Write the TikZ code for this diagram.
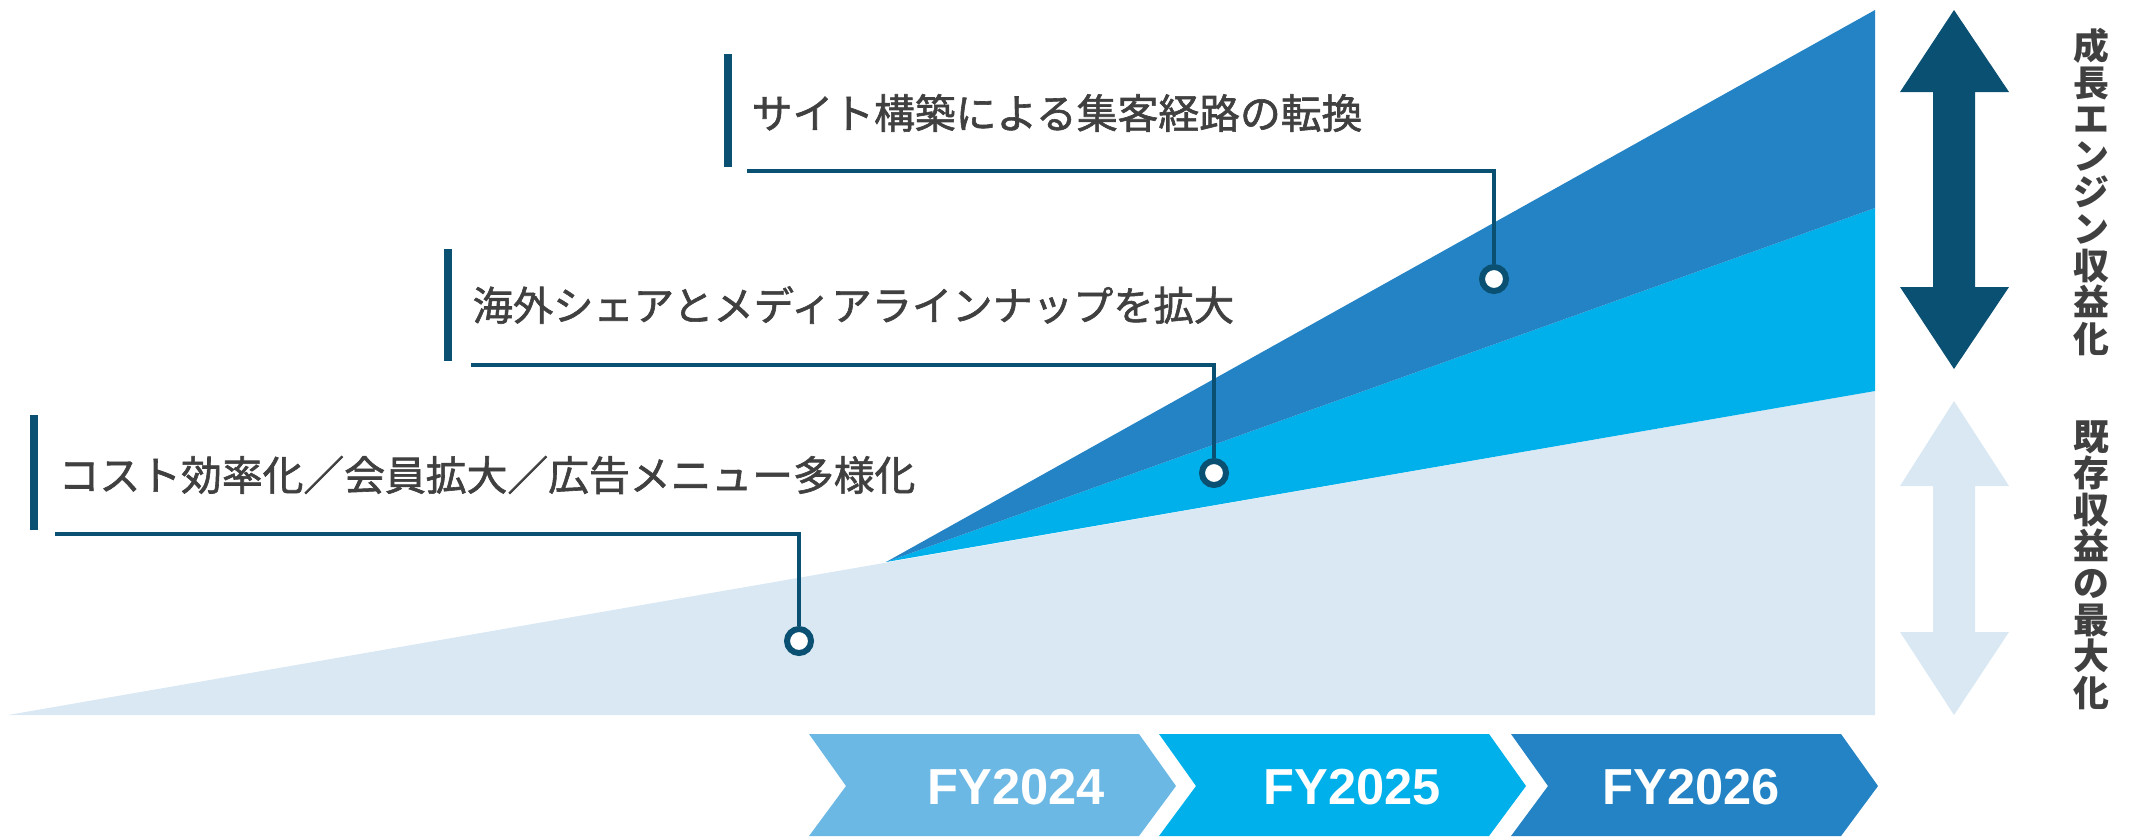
\documentclass[tikz,border=0pt]{standalone}
\usepackage{fontspec}
\newfontfamily\jpfont[FakeBold=1.5]{Noto Sans CJK JP}
\newfontfamily\jpside{Noto Sans CJK JP}
\newfontfamily\latinfont{Liberation Sans}
\usetikzlibrary{positioning}
\definecolor{navy}{HTML}{0A5072}
\definecolor{midblue}{HTML}{2383C4}
\definecolor{cyanblue}{HTML}{00B0EB}
\definecolor{paleblue}{HTML}{D9E8F3}
\definecolor{skyblue}{HTML}{6CB8E4}
\definecolor{inkgrey}{HTML}{404040}

\begin{document}
\begin{tikzpicture}[
  x=0.01cm, y=-0.01cm,
  callout/.style={anchor=west, inner sep=0pt, text=inkgrey, font=\jpfont\fontsize{11.6}{14}\selectfont},
  sidetext/.style={inner sep=0pt, align=center, text=inkgrey, font=\jpside\bfseries\fontsize{10.2}{10.4}\selectfont},
  year/.style={inner sep=0pt, text=white, font=\latinfont\bfseries\fontsize{14.4}{16}\selectfont},
  dot/.style={circle, draw=navy, fill=white, line width=1.7pt, minimum size=0.24cm, inner sep=0pt},
  leader/.style={navy, line width=1pt},
  bar/.style={fill=navy}
]
\useasboundingbox (0,0) rectangle (2131,836);

\fill[paleblue] (8,715) -- (1875,391) -- (1875,715) -- cycle;
\fill[cyanblue] (886,562) -- (1875,208) -- (1875,391) -- cycle;
\fill[midblue] (886,562) -- (1875,10) -- (1875,208) -- cycle;

\fill[navy] (1954,10) -- (2009,92) -- (1975,92) -- (1975,287) -- (2009,287) -- (1954,369)
  -- (1900,287) -- (1933,287) -- (1933,92) -- (1900,92) -- cycle;
\fill[paleblue] (1954,401) -- (2009,486) -- (1975,486) -- (1975,632) -- (2009,632) -- (1954,715)
  -- (1900,632) -- (1933,632) -- (1933,486) -- (1900,486) -- cycle;

\node[sidetext] (growth) at (2091,192) {成\\長\\エ\\ン\\ジ\\ン\\収\\益\\化};
\node[sidetext] (legacy) at (2091,565) {既\\存\\収\\益\\の\\最\\大\\化};

\fill[bar] (724,54) rectangle (732,167);
\fill[bar] (444,249) rectangle (452,361);
\fill[bar] (30,415) rectangle (38,530);

\node[callout] (site) at (751,113) {サイト構築による集客経路の転換};
\node[callout, font=\jpfont\fontsize{11.45}{14}\selectfont] (media) at (472,305) {海外シェアとメディアラインナップを拡大};
\node[callout] (cost) at (58,475) {コスト効率化／会員拡大／広告メニュー多様化};

\coordinate (site-l) at (747,171);
\coordinate (media-l) at (471,365);
\coordinate (cost-l) at (55,534);
\node[dot] (site-d) at (1494,279) {};
\node[dot] (media-d) at (1214,473) {};
\node[dot] (cost-d) at (799,641) {};
\draw[leader] (site-l) -| (site-d);
\draw[leader] (media-l) -| (media-d);
\draw[leader] (cost-l) -| (cost-d);

\foreach \xl/\xt/\yr/\col in {809/1016/2024/skyblue, 1159/1352/2025/cyanblue, 1511/1691/2026/midblue} {
  \fill[\col] (\xl,734) -- ++(330,0) -- ++(37,52) -- ++(-37,50) -- ++(-330,0) -- ++(37,-50) -- cycle;
  \node[year] (fy\yr) at (\xt,787) {FY\yr};
}
\end{tikzpicture}
\end{document}
